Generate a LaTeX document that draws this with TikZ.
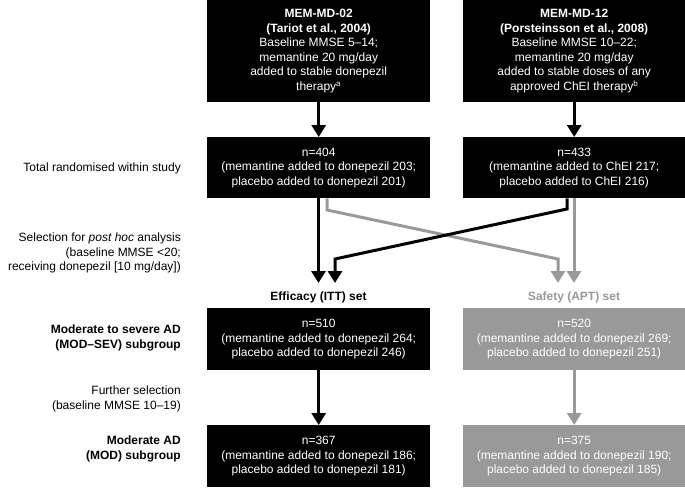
\documentclass[tikz,border=0pt]{standalone}
\usepackage{fontspec}
\setmainfont{Liberation Sans}
\usetikzlibrary{arrows.meta}
\definecolor{grayc}{RGB}{153,153,153}
\tikzset{
  box/.style={fill=black, text=white, inner sep=0pt, align=center, anchor=north west,
    minimum width=223pt, font=\fontsize{12}{14.5}\selectfont},
  graybox/.style={box, fill=grayc},
  sidelabel/.style={anchor=east, align=right, inner sep=0pt, font=\fontsize{12}{14.5}\selectfont},
  setlabel/.style={inner sep=0pt, font=\fontsize{12}{14.5}\selectfont\bfseries},
  arr/.style={line width=3pt, -{Triangle[width=14pt,length=12pt]}},
  blackarr/.style={arr, draw=black},
  grayarr/.style={arr, draw=grayc},
}
\begin{document}
\begin{tikzpicture}[x=1pt,y=-1pt]
\useasboundingbox (0,0) rectangle (685,487);
% top boxes
\node[box, minimum height=102pt] (L1) at (207,0) {\textbf{MEM-MD-02}\\\textbf{(Tariot et al., 2004)}\\Baseline MMSE 5--14;\\memantine 20 mg/day\\added to stable donepezil\\therapy\textsuperscript{a}};
\node[box, minimum height=102pt, minimum width=222pt] (R1) at (463,0) {\textbf{MEM-MD-12}\\\textbf{(Porsteinsson et al., 2008)}\\Baseline MMSE 10--22;\\memantine 20 mg/day\\added to stable doses of any\\approved ChEI therapy\textsuperscript{b}};
% second row
\node[box, minimum height=61pt] (L2) at (207,137) {n=404\\(memantine added to donepezil 203;\\placebo added to donepezil 201)};
\node[box, minimum height=61pt, minimum width=222pt] (R2) at (463,137) {n=433\\(memantine added to ChEI 217;\\placebo added to ChEI 216)};
% third row
\node[box, minimum height=62pt] (L3) at (207,308) {n=510\\(memantine added to donepezil 264;\\placebo added to donepezil 246)};
\node[graybox, minimum height=62pt, minimum width=222pt] (R3) at (463,308) {n=520\\(memantine added to donepezil 269;\\placebo added to donepezil 251)};
% fourth row
\node[box, minimum height=62pt] (L4) at (207,425) {n=367\\(memantine added to donepezil 186;\\placebo added to donepezil 181)};
\node[graybox, minimum height=62pt, minimum width=222pt] (R4) at (463,425) {n=375\\(memantine added to donepezil 190;\\placebo added to donepezil 185)};
% set labels
\node[setlabel] (eff) at (318.5,297) {Efficacy (ITT) set};
\node[setlabel, text=grayc] (saf) at (574,297) {Safety (APT) set};
% side labels
\node[sidelabel] (s1) at (181,168) {Total randomised within study};
\node[sidelabel] (s2) at (181,253) {Selection for \textit{post hoc} analysis\\(baseline MMSE <20;\\receiving donepezil [10 mg/day])};
\node[sidelabel, font=\fontsize{12}{14.5}\selectfont\bfseries] (s3) at (181,338) {Moderate to severe AD\\(MOD--SEV) subgroup};
\node[sidelabel] (s4) at (181,399) {Further selection\\(baseline MMSE 10--19)};
\node[sidelabel, font=\fontsize{12}{14.5}\selectfont\bfseries] (s5) at (181,449) {Moderate AD\\(MOD) subgroup};
% coordinates
\coordinate (tipA) at (318.5,283);
\coordinate (tipB) at (335,283);
\coordinate (tipC) at (558,283);
\coordinate (tipD) at (574,283);
\coordinate (bendB1) at (567,209);
\coordinate (bendB2) at (335,259);
\coordinate (bendC1) at (327,210);
\coordinate (bendC2) at (558,259);
% arrows top
\draw[blackarr] (L1.south) -- (L2.north);
\draw[blackarr] (R1.south) -- (R2.north);
% gray arrows
\draw[grayarr] (L2.south -| bendC1) -- (bendC1) -- (bendC2) -- (tipC);
\draw[grayarr] (R2.south -| tipD) -- (tipD);
% black arrows
\draw[blackarr] (L2.south -| tipA) -- (tipA);
\draw[blackarr] (R2.south -| bendB1) -- (bendB1) -- (bendB2) -- (tipB);
% lower arrows
\draw[blackarr] (L3.south) -- (L4.north);
\draw[grayarr] (R3.south) -- (R4.north);
\end{tikzpicture}
\end{document}
